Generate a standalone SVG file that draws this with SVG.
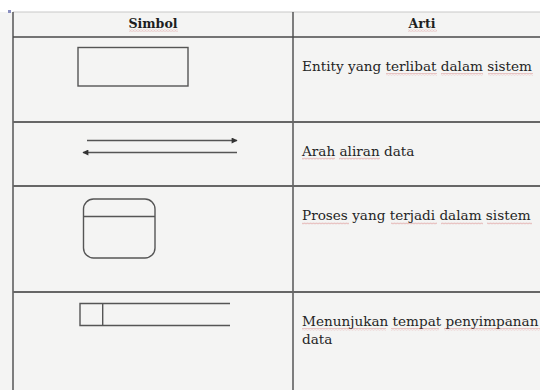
<svg xmlns="http://www.w3.org/2000/svg" width="540" height="390" viewBox="0 0 540 390">
  <style>
    .grid { stroke: #4a4a4a; stroke-width: 1.4; fill: none; }
    .rule { stroke: #666; stroke-width: 1.8; fill: none; }
    .shape { stroke: #555; stroke-width: 1.4; fill: none; }
    .head { font-family: "DejaVu Serif", "Liberation Serif", serif; font-weight: bold; font-size: 12.6px; fill: #1e1e1e; text-anchor: middle; }
    .body { font-family: "DejaVu Serif", "Liberation Serif", serif; font-size: 13.6px; fill: #252525; }
    .wavy { fill: url(#squiggle); opacity: 0.7; }
  </style>
  <defs>
    <marker id="arrow" viewBox="0 0 10 10" refX="9" refY="5" markerWidth="8" markerHeight="6" markerUnits="userSpaceOnUse" orient="auto">
      <path d="M0,0 L10,5 L0,10 Z" fill="#333"/>
    </marker>
    <!-- spell-check style wavy underline -->
    <pattern id="squiggle" width="3" height="2.5" patternUnits="userSpaceOnUse">
      <path d="M0,2 L1.5,0.6 L3,2" fill="none" stroke="#cc5555" stroke-width="0.8"/>
    </pattern>
  </defs>

  <!-- page and table background -->
  <rect x="0" y="0" width="540" height="390" fill="#ffffff"/>
  <rect x="0" y="12" width="540" height="378" fill="#f4f4f3"/>
  <rect x="8" y="10" width="3" height="3" fill="#8a8fc0"/>

  <!-- table grid -->
  <g id="table-grid">
    <line x1="13" y1="12" x2="540" y2="12" stroke="#c8c8c8" stroke-width="1"/>
    <line class="grid" x1="13" y1="12" x2="13" y2="390"/>
    <line class="grid" x1="293" y1="12" x2="293" y2="390"/>
    <line class="grid" x1="13" y1="37" x2="540" y2="37"/>
    <line class="rule" x1="13" y1="122" x2="540" y2="122"/>
    <line class="rule" x1="13" y1="186" x2="540" y2="186"/>
    <line class="rule" x1="13" y1="292" x2="540" y2="292"/>
  </g>

  <!-- header -->
  <g id="header">
    <text class="head" x="153" y="27.5">Simbol</text>
    <text class="head" x="422" y="27.5">Arti</text>
    <rect class="wavy" x="129" y="29" width="49" height="2.5"/>
    <rect class="wavy" x="408" y="29" width="29" height="2.5"/>
  </g>

  <!-- external entity -->
  <g id="entity">
    <rect class="shape" x="78" y="47.5" width="110" height="38.5"/>
    <text class="body" x="302" y="71">Entity yang terlibat dalam sistem</text>
    <rect class="wavy" x="386" y="73" width="51" height="2.5"/>
    <rect class="wavy" x="441" y="73" width="42" height="2.5"/>
    <rect class="wavy" x="488" y="73" width="45" height="2.5"/>
  </g>

  <!-- data flow -->
  <g id="connectors">
    <line class="shape" x1="87" y1="140.5" x2="237" y2="140.5" marker-end="url(#arrow)"/>
    <line class="shape" x1="237" y1="152.5" x2="83" y2="152.5" marker-end="url(#arrow)"/>
  </g>
  <g id="flow-label">
    <text class="body" x="302" y="155.5">Arah aliran data</text>
    <rect class="wavy" x="302" y="157.5" width="33" height="2.5"/>
    <rect class="wavy" x="339" y="157.5" width="41" height="2.5"/>
  </g>

  <!-- process -->
  <g id="process">
    <rect class="shape" x="83.5" y="199" width="71.5" height="59" rx="10" ry="10"/>
    <line class="shape" x1="84" y1="216.5" x2="155" y2="216.5"/>
    <text class="body" x="302" y="220">Proses yang terjadi dalam sistem</text>
    <rect class="wavy" x="302" y="222" width="47" height="2.5"/>
    <rect class="wavy" x="391" y="222" width="46" height="2.5"/>
    <rect class="wavy" x="441" y="222" width="42" height="2.5"/>
    <rect class="wavy" x="487" y="222" width="45" height="2.5"/>
  </g>

  <!-- data store -->
  <g id="data-store">
    <path class="shape" d="M230,303.5 H80 V325.5 H230 M102.7,303.5 V325.5"/>
    <text class="body" x="302" y="326">Menunjukan tempat penyimpanan</text>
    <text class="body" x="302" y="344">data</text>
    <rect class="wavy" x="302" y="328" width="84" height="2.5"/>
    <rect class="wavy" x="391" y="328" width="48" height="2.5"/>
    <rect class="wavy" x="444" y="328" width="96" height="2.5"/>
  </g>
</svg>
